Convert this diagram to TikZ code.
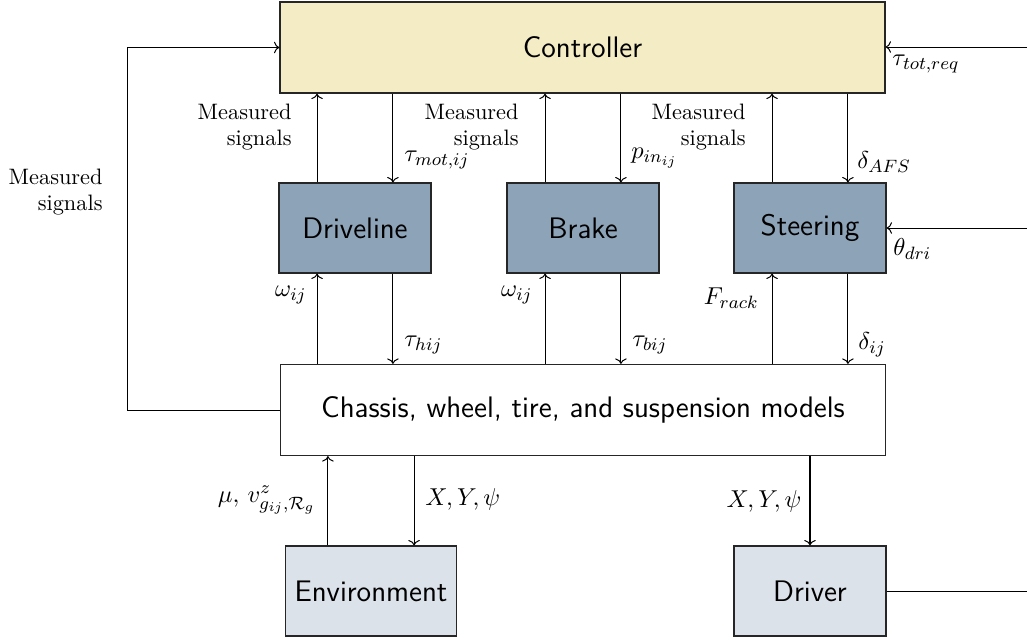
\documentclass[tikz,border=0pt]{standalone}
\usetikzlibrary{calc,arrows.meta}
\definecolor{ctrlfill}{HTML}{F4ECC4}
\definecolor{subfill}{HTML}{8DA3B8}
\definecolor{extfill}{HTML}{DCE2EA}
\begin{document}
\begin{tikzpicture}[x=0.448pt,y=-0.448pt,
  blk/.style={draw=black!85, line width=0.5pt, font=\sffamily\fontsize{13.3}{16}\selectfont, inner sep=0pt,
              minimum width=68.1pt, minimum height=40.3pt},
  wide/.style={blk, minimum width=271.0pt, minimum height=40.8pt},
  sig/.style={-{To[scale=0.95]}, line width=0.45pt},
  lbl/.style={inner sep=0pt, font=\fontsize{10.95}{13.6}\selectfont},
  msig/.style={align=right, inner sep=0pt, anchor=east}]
\useasboundingbox (0,0) rectangle (1027,640);

% blocks
\node[wide, fill=ctrlfill] (ctrl) at (582.5,47.5) {Controller};
\node[blk, fill=subfill] (drive) at (355,228) {Driveline};
\node[blk, fill=subfill] (brake) at (583,228) {Brake};
\node[blk, fill=subfill] (steer) at (810,228) {Steering};
\node[wide, fill=white] (chassis) at (583,410) {Chassis, wheel, tire, and suspension models};
\node[blk, fill=extfill, minimum width=76.6pt] (env) at (371,591) {Environment};
\node[blk, fill=extfill] (driver) at (810,591) {Driver};

% free ends at the right border
\coordinate (treq) at (1027,47);
\coordinate (thdri) at (1027,228);
\coordinate (drvout) at (1027,591);

% subsystems <-> controller and chassis
\foreach \b in {drive,brake,steer}{
  \draw[sig] ([xshift=-17pt]\b.north) -- ([xshift=-17pt]\b.north |- ctrl.south);
  \draw[sig] ([xshift=17pt]\b.north |- ctrl.south) -- ([xshift=17pt]\b.north);
  \draw[sig] ([xshift=-17pt]\b.south |- chassis.north) -- ([xshift=-17pt]\b.south);
  \draw[sig] ([xshift=17pt]\b.south) -- ([xshift=17pt]\b.south |- chassis.north);
}

% chassis <-> environment and driver
\draw[sig] ([xshift=-19.3pt]env.north) -- ([xshift=-19.3pt]env.north |- chassis.south);
\draw[sig] ([xshift=19.3pt]env.north |- chassis.south) -- ([xshift=19.3pt]env.north);
\draw[sig] (driver.north |- chassis.south) -- (driver.north);

% feedback and external inputs
\draw[sig] (chassis.west) -- ++(-152,0) |- (ctrl.west);
\draw[sig] (treq) -- (treq -| ctrl.east);
\draw[sig] (thdri) -- (steer.east);
\draw[line width=0.45pt] (driver.east) -- (drvout);

% labels
\node[msig] at (103,192) {Measured\\signals};
\node[msig] at (292,127) {Measured\\signals};
\node[msig] at (519,127) {Measured\\signals};
\node[msig] at (746,127) {Measured\\signals};

\node[lbl, anchor=west] at (404,160) {$\tau_{mot,ij}$};
\node[lbl, anchor=west] at (631,158) {$p_{in_{ij}}$};
\node[lbl, anchor=west] at (857,162) {$\delta_{AFS}$};
\node[lbl, anchor=west] at (892,64) {$\tau_{tot,req}$};
\node[lbl, anchor=west] at (893,249) {$\theta_{dri}$};

\node[lbl, anchor=east] at (307,295) {$\omega_{ij}$};
\node[lbl, anchor=east] at (533,295) {$\omega_{ij}$};
\node[lbl, anchor=east] at (759,298) {$F_{rack}$};
\node[lbl, anchor=west] at (404,345) {$\tau_{hij}$};
\node[lbl, anchor=west] at (632,345) {$\tau_{bij}$};
\node[lbl, anchor=west] at (858,345) {$\delta_{ij}$};

\node[lbl, anchor=east] at (316,500) {$\mu,\, v^z_{g_{ij},\mathcal{R}_g}$};
\node[lbl, anchor=west] at (425,499) {$X,Y,\psi$};
\node[lbl, anchor=east] at (802,501) {$X,Y,\psi$};
\end{tikzpicture}
\end{document}
